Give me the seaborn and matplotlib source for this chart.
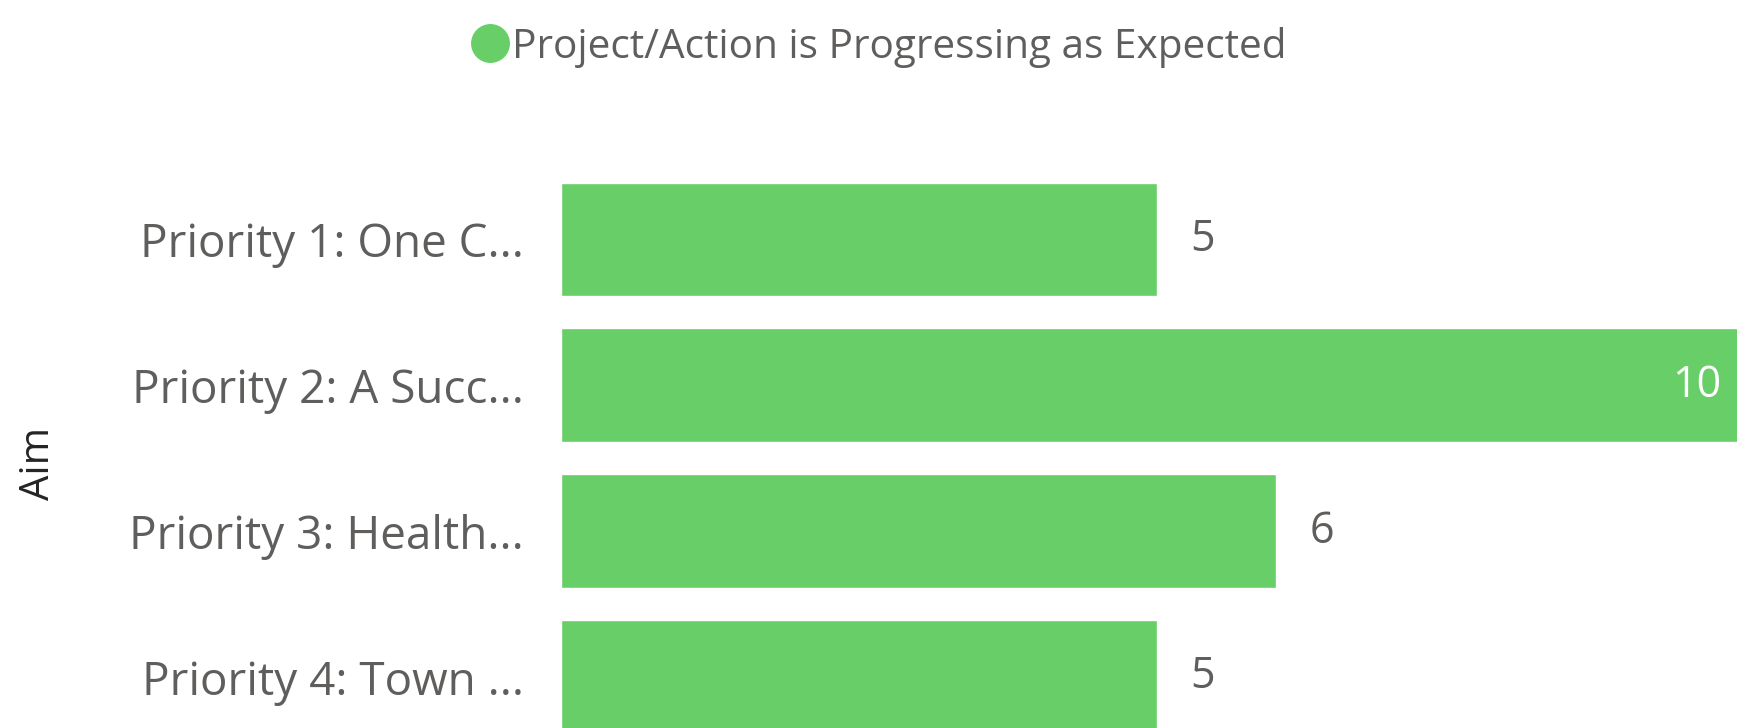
import matplotlib
matplotlib.use("Agg")
import matplotlib.pyplot as plt
from matplotlib.lines import Line2D
import seaborn as sns
import pandas as pd

categories = ["Priority 1: One C...", "Priority 2: A Succ...", "Priority 3: Health...", "Priority 4: Town ..."]
values = [5, 10, 6, 5]
series_name = "Project/Action is Progressing as Expected"
axis_label = "Aim"

GREEN = "#68CE67"
GREY = "#605E5C"

sns.set_theme(style="white")
plt.rcParams["font.family"] = ["Open Sans", "DejaVu Sans"]

df = pd.DataFrame({"Aim": categories, "Count": values})

W, H = 1737, 728
pitch = 145.9
top = 239.5 - pitch / 2
bottom = top + 4 * pitch

fig = plt.figure(figsize=(W / 100, H / 100), dpi=100)
ax = fig.add_axes([561 / W, 1 - bottom / H, 1192 / W, (bottom - top) / H])

sns.barplot(data=df, x="Count", y="Aim", orient="h", color=GREEN, width=0.78,
            saturation=1, ax=ax)
ax.set_xlim(0, 10)
ax.set_ylim(3.5, -0.5)
for s in ax.spines.values():
    s.set_visible(False)
ax.set_xticks([])
ax.set_xlabel("")
ax.set_ylabel("")
ax.tick_params(axis="y", length=0, pad=27, labelsize=33, labelcolor=GREY)

for i, v in enumerate(values):
    if v >= 10:
        ax.text(v - 0.27, i, str(v), ha="right", va="center", fontsize=31, color="white")
    else:
        ax.text(v + 0.28, i, str(v), ha="left", va="center", fontsize=31, color=GREY)

handle = Line2D([], [], marker="o", linestyle="none", markersize=27,
                markerfacecolor=GREEN, markeredgecolor=GREEN)
fig.legend([handle], [series_name], loc="center", bbox_to_anchor=(878 / W, 1 - 47 / H),
           frameon=False, fontsize=29.2, labelcolor=GREY, handletextpad=0.05,
           handlelength=1.0, borderpad=0)

fig.text(39 / W, 1 - 463 / H, axis_label, rotation=90, ha="center", va="center",
         fontsize=29, color="#252423")

fig.savefig("out.png", dpi=100)
